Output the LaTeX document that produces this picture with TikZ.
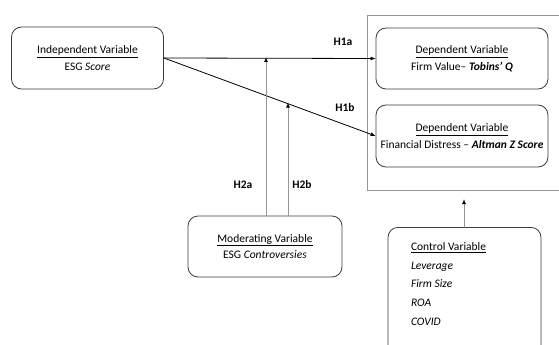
\documentclass[tikz,border=0pt]{standalone}
\usepackage{fontspec}
\setmainfont{Carlito}
\usetikzlibrary{arrows.meta}
\definecolor{darkgray}{RGB}{60,60,60}
\definecolor{linegray}{RGB}{150,150,150}
\tikzset{
    lab/.style={
        font=\fontsize{11.5}{14}\selectfont\bfseries
    }
}

\begin{document}
\begin{tikzpicture}[x=1pt,y=-1pt, line cap=round, line join=round]

% box + arrow styles
\tikzset{
  varbox/.style={draw=darkgray, line width=0.8pt, rounded corners=10pt, align=center,
    font=\fontsize{11.5}{16.5}\selectfont, inner sep=0pt},
  frame/.style={draw=linegray, line width=0.8pt},
  main/.style={draw=black, line width=0.8pt, -{Latex[length=5pt,width=4pt]}},
  mod/.style={draw=linegray, line width=1pt, -{Latex[length=5pt,width=4pt,color=black]}},
}

  \useasboundingbox (0,0) rectangle (559,345);

  % outer frame round the dependent variables
  \draw[frame] (367,15) rectangle (566,190);

  % nodes
  \node[varbox, minimum width=152pt, minimum height=62pt] (indep) at (87.5,58)
    {\underline{Independent Variable}\\ESG \textit{Score}};
  \node[varbox, minimum width=172pt, minimum height=61pt] (dep1) at (462,58.5)
    {\underline{Dependent Variable}\\Firm Value-- \textit{\textbf{Tobins' Q}}};
  \node[varbox, minimum width=172pt, minimum height=62pt] (dep2) at (462,136)
    {\underline{Dependent Variable}\\Financial Distress -- \textit{\textbf{Altman Z Score}}};
  \node[varbox, minimum width=154pt, minimum height=61pt] (moder) at (265,246.5)
    {\underline{Moderating Variable}\\ESG \textit{Controversies}};
  \node[varbox, anchor=north, inner xsep=23pt, inner ysep=0pt,
    font=\fontsize{11.5}{18.7}\selectfont] (ctrl) at (464.5,227)
    {\parbox[c][135pt][t]{107pt}{\vspace*{15pt}\underline{Control Variable}\\\textit{Leverage}\\\textit{Firm Size}\\\textit{ROA}\\\textit{COVID}}};

  % free ends of the moderating and control arrows
  \coordinate (h2a) at (266,57);
  \coordinate (h2b) at (288,102.5);
  \coordinate (ctop) at (464,199);

  % edges
  \draw[main] (indep.east) -- (dep1.west);
  \draw[main] (indep.east) -- (dep2.west);
  \draw[mod] (moder.north -| h2a) -- (h2a);
  \draw[mod] (moder.north -| h2b) -- (h2b);
  \draw[mod] (ctrl.north -| ctop) -- (ctop);

  % labels
  \node[lab] (l1a) at (343,42) {H1a};
  \node[lab] (l1b) at (345,108) {H1b};
  \node[lab] (l2a) at (243,185) {H2a};
  \node[lab] (l2b) at (302,185) {H2b};

\end{tikzpicture}
\end{document}
